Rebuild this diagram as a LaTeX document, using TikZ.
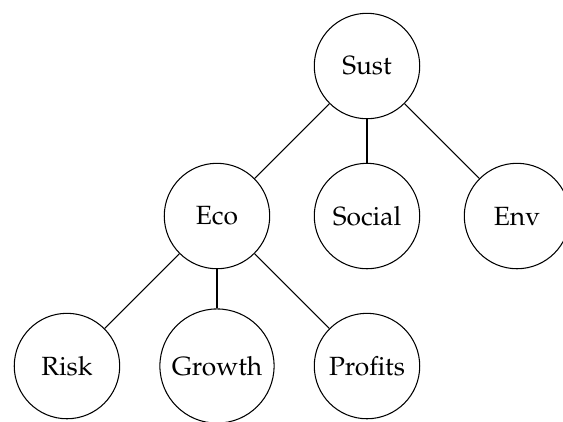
\documentclass[tikz,border=0pt]{standalone}
\usepackage[T1]{fontenc}
\usepackage{mathpazo}
\begin{document}
\begin{tikzpicture}[
  topic/.style={draw, circle, minimum size=40pt, inner sep=0.3333em},
  link/.style={draw}
]
\useasboundingbox (-4.893,-4.734) rectangle (2.613,0.880);
% top level
\node[topic] (sust) at (0,0) {Sust};
% second level
\node[topic] (eco) at (-2,-2) {Eco};
\node[topic] (social) at (0,-2) {Social};
\node[topic] (env) at (2,-2) {Env};
% third level under Eco
\node[topic] (risk) at (-4,-4) {Risk};
\node[topic] (growth) at (-2,-4) {Growth};
\node[topic] (profits) at (0,-4) {Profits};
% connectors
\draw[link] (sust) -- (eco);
\draw[link] (sust) -- (social);
\draw[link] (sust) -- (env);
\draw[link] (eco) -- (risk);
\draw[link] (eco) -- (growth);
\draw[link] (eco) -- (profits);
\end{tikzpicture}
\end{document}
